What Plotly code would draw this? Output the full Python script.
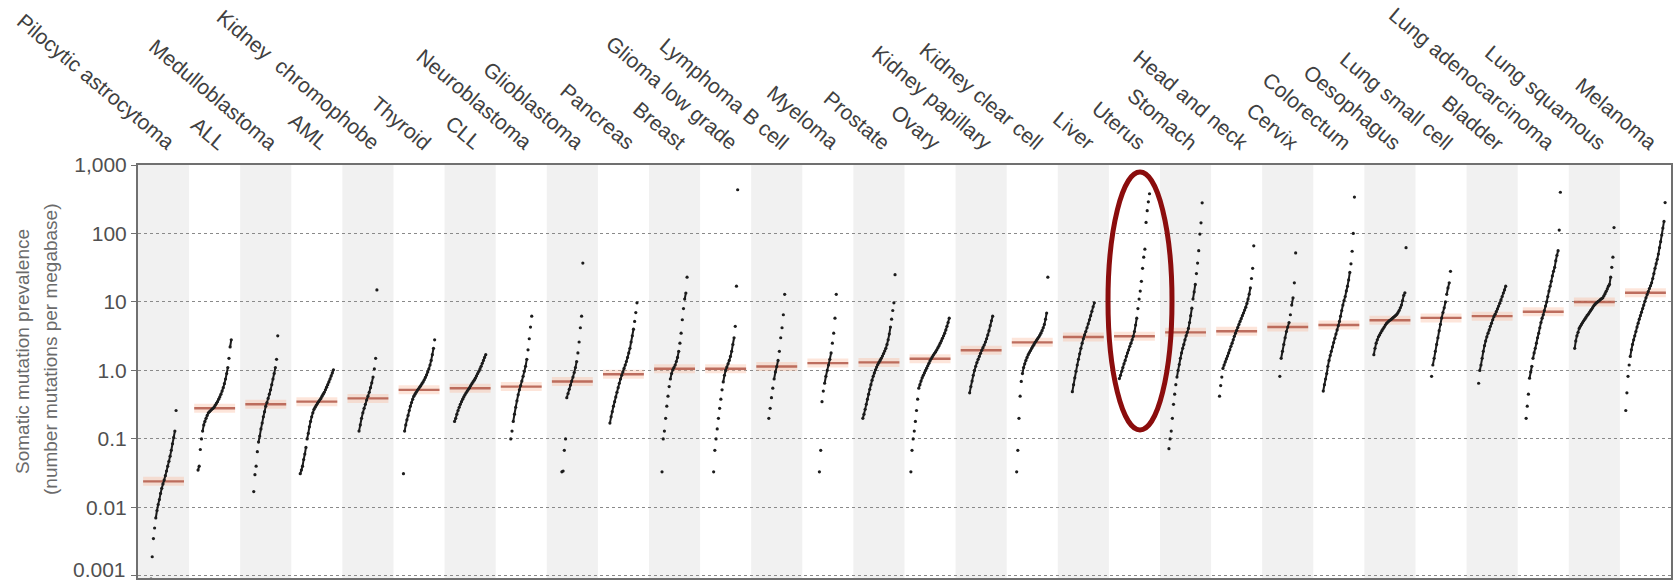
import numpy as np
import plotly.graph_objects as go

# ---------------- data ----------------
categories = [
    "Pilocytic astrocytoma", "ALL", "Medulloblastoma", "AML", "Kidney  chromophobe",
    "Thyroid", "CLL", "Neuroblastoma", "Glioblastoma", "Pancreas", "Breast",
    "Glioma low grade", "Lymphoma B cell", "Myeloma", "Prostate", "Ovary",
    "Kidney papillary", "Kidney clear cell", "Liver", "Uterus", "Stomach",
    "Head and neck", "Cervix", "Colorectum", "Oesophagus", "Lung small cell",
    "Bladder", "Lung adenocarcinoma", "Lung squamous", "Melanoma",
]

medians = [0.024, 0.28, 0.32, 0.35, 0.39, 0.52, 0.55, 0.58, 0.69, 0.88, 1.06,
           1.06, 1.14, 1.28, 1.31, 1.48, 1.97, 2.57, 3.08, 3.15, 3.6, 3.73,
           4.3, 4.6, 5.4, 5.85, 6.2, 7.2, 10.0, 13.6]

pilocytic_astrocytoma = [0.0009, 0.0019, 0.0035, 0.005, 0.007, 0.009, 0.011, 0.013, 0.016, 0.019,
                         0.022, 0.025, 0.029, 0.034, 0.04, 0.047, 0.056, 0.068, 0.085, 0.105, 0.13, 0.26]
all_leukaemia = [0.035, 0.04, 0.07, 0.1, 0.13, 0.16, 0.18, 0.2, 0.22, 0.24, 0.25, 0.26, 0.27, 0.28, 0.29,
                 0.31, 0.33, 0.35, 0.38, 0.41, 0.45, 0.5, 0.56, 0.64, 0.75, 0.9, 1.1, 1.5, 2.2, 2.8]
medulloblastoma = [0.017, 0.03, 0.04, 0.065, 0.09, 0.11, 0.14, 0.17, 0.21, 0.25, 0.3, 0.34, 0.39, 0.45,
                   0.52, 0.62, 0.75, 0.9, 1.1, 1.45, 3.2]
aml = [0.031, 0.035, 0.04, 0.05, 0.06, 0.075, 0.1, 0.12, 0.15, 0.18, 0.21, 0.24, 0.27, 0.29, 0.31,
       0.33, 0.35, 0.37, 0.39, 0.42, 0.45, 0.48, 0.52, 0.57, 0.62, 0.68, 0.75, 0.83, 0.92, 1.02]
kidney_chromophobe = [0.13, 0.16, 0.2, 0.24, 0.28, 0.32, 0.37, 0.42, 0.48, 0.56, 0.66, 0.8, 1.05, 1.5, 15]
thyroid = [0.031, 0.13, 0.16, 0.19, 0.22, 0.26, 0.3, 0.34, 0.38, 0.42, 0.45, 0.48, 0.51, 0.54, 0.57,
           0.6, 0.64, 0.68, 0.73, 0.79, 0.86, 0.95, 1.05, 1.2, 1.4, 1.7, 2.1, 2.8]
cll = [0.18, 0.2, 0.23, 0.26, 0.29, 0.32, 0.35, 0.38, 0.41, 0.44, 0.47, 0.5, 0.53, 0.56, 0.6, 0.64,
       0.68, 0.72, 0.77, 0.83, 0.9, 0.97, 1.05, 1.15, 1.27, 1.4, 1.55, 1.7]
neuroblastoma = [0.1, 0.13, 0.18, 0.23, 0.29, 0.36, 0.44, 0.52, 0.6, 0.7, 0.82, 0.97, 1.15, 1.45,
                 2.0, 2.9, 4.3, 6.2]
glioblastoma = [0.033, 0.034, 0.068, 0.1, 0.4, 0.46, 0.53, 0.61, 0.7, 0.8, 0.93, 1.1, 1.35, 1.8,
                2.6, 4.2, 6.2, 37]
pancreas = [0.17, 0.21, 0.25, 0.3, 0.35, 0.41, 0.48, 0.56, 0.65, 0.75, 0.85, 0.95, 1.07, 1.2, 1.35,
            1.55, 1.8, 2.1, 2.6, 3.2, 4.0, 5.2, 7.0, 9.7]
breast = [0.033, 0.1, 0.13, 0.2, 0.3, 0.42, 0.58, 0.75, 0.9, 1.02, 1.1, 1.2, 1.35, 1.55, 1.9, 2.5,
          3.5, 5.5, 8.0, 11, 13.5, 23]
glioma_low_grade = [0.033, 0.068, 0.1, 0.14, 0.2, 0.28, 0.38, 0.52, 0.68, 0.85, 1.0, 1.12, 1.25, 1.4,
                    1.6, 1.9, 2.4, 3.0, 4.4, 17, 435]
lymphoma_b_cell = [0.2, 0.28, 0.4, 0.55, 0.75, 0.95, 1.14, 1.4, 1.9, 3.0, 4.2, 6.5, 12.9]
myeloma = [0.033, 0.068, 0.35, 0.5, 0.65, 0.82, 1.0, 1.2, 1.45, 1.8, 2.5, 3.5, 5.8, 12.9]
prostate = [0.2, 0.23, 0.27, 0.32, 0.38, 0.45, 0.53, 0.62, 0.72, 0.82, 0.92, 1.02, 1.12, 1.22, 1.31,
            1.4, 1.5, 1.62, 1.76, 1.92, 2.1, 2.4, 2.8, 3.4, 4.3, 5.6, 7.5, 9.7, 25]
ovary = [0.033, 0.068, 0.1, 0.13, 0.18, 0.26, 0.38, 0.55, 0.62, 0.7, 0.78, 0.85, 0.92, 1.0, 1.08,
         1.17, 1.27, 1.38, 1.48, 1.58, 1.68, 1.78, 1.88, 2.0, 2.15, 2.3, 2.5, 2.7, 2.95, 3.2, 3.5,
         3.9, 4.4, 5.0, 5.8]
kidney_papillary = [0.47, 0.58, 0.7, 0.85, 1.0, 1.15, 1.3, 1.45, 1.6, 1.78, 1.97, 2.15, 2.35, 2.6,
                    2.9, 3.3, 3.8, 4.5, 5.3, 6.2]
kidney_clear_cell = [0.033, 0.068, 0.2, 0.42, 0.69, 0.9, 1.1, 1.25, 1.4, 1.55, 1.7, 1.82, 1.95, 2.1,
                     2.25, 2.4, 2.57, 2.72, 2.88, 3.05, 3.25, 3.5, 3.8, 4.2, 4.7, 5.6, 6.9, 23]
liver = [0.49, 0.62, 0.78, 0.97, 1.2, 1.45, 1.75, 2.1, 2.5, 2.9, 3.3, 3.7, 4.2, 4.8, 5.5, 6.3, 7.3,
         8.5, 9.7]
uterus = [0.76, 0.85, 0.97, 1.1, 1.25, 1.4, 1.6, 1.8, 2.0, 2.25, 2.5, 2.8, 3.15, 3.7, 4.6, 5.8, 8,
          11, 14.4, 20, 31, 45, 59, 145, 215, 290, 380]
stomach = [0.072, 0.1, 0.13, 0.2, 0.32, 0.45, 0.62, 0.8, 1.0, 1.22, 1.5, 1.8, 2.1, 2.4, 2.8, 3.2,
           3.6, 4.1, 5.0, 6.3, 8.1, 11, 14, 18, 26, 37, 56, 98, 143, 280]
head_and_neck = [0.42, 0.6, 0.8, 1.07, 1.2, 1.33, 1.47, 1.62, 1.8, 2.0, 2.25, 2.5, 2.8, 3.15, 3.5,
                 3.85, 4.25, 4.7, 5.2, 5.7, 6.3, 6.9, 7.6, 8.4, 9.5, 11, 13, 16, 22, 31, 66]
cervix = [0.82, 1.5, 1.9, 2.4, 3.0, 3.7, 4.3, 5.0, 6.5, 9.0, 11.5, 19, 52]
colorectum = [0.5, 0.62, 0.75, 0.9, 1.15, 1.4, 1.65, 1.9, 2.2, 2.55, 2.95, 3.4, 3.9, 4.5, 5.2, 6.2,
              7.5, 9.0, 10.5, 12, 14.5, 17, 21, 27, 36, 55, 100, 340]
oesophagus = [1.7, 2.1, 2.5, 2.8, 3.1, 3.3, 3.55, 3.8, 4.05, 4.3, 4.6, 4.85, 5.05, 5.25, 5.4, 5.55,
              5.75, 5.95, 6.15, 6.35, 6.6, 7.0, 7.5, 8.2, 9.0, 10.5, 12.5, 13.6, 62]
lung_small_cell = [0.82, 1.2, 1.5, 1.9, 2.4, 3.0, 3.8, 4.7, 5.85, 7.0, 8.2, 10, 12.9, 16, 19, 28]
bladder = [0.65, 1.0, 1.2, 1.5, 1.9, 2.3, 2.7, 3.1, 3.5, 3.9, 4.4, 4.9, 5.5, 6.1, 6.6, 7.2, 7.9, 8.7,
           9.6, 10.7, 12, 13.5, 15, 17]
lung_adenocarcinoma = [0.2, 0.3, 0.45, 0.77, 0.95, 1.15, 1.5, 1.8, 2.1, 2.5, 3.0, 3.5, 4.2, 5.0, 5.8,
                       6.5, 7.5, 8.7, 10, 12, 14.4, 17, 20, 24, 28, 32, 40, 48, 56, 112, 400]
lung_squamous = [2.1, 2.7, 3.2, 3.6, 4.1, 4.4, 4.7, 5.0, 5.3, 5.6, 5.95, 6.3, 6.6, 7.0, 7.4, 7.8, 8.3,
                 8.8, 9.2, 9.6, 9.9, 10.2, 10.5, 10.9, 11.2, 11.5, 12.3, 13.2, 14.3, 15.5, 17, 18,
                 23, 32, 45, 122]
melanoma = [0.26, 0.47, 0.82, 1.2, 1.6, 2.0, 2.4, 2.8, 3.2, 3.7, 4.3, 4.9, 5.6, 6.3, 7.1, 8.0, 9.0,
            10.2, 11.5, 12.8, 14.2, 15.7, 17.2, 19, 22, 26, 31, 36, 42, 50, 62, 76, 95, 120, 150, 283]

samples = [pilocytic_astrocytoma, all_leukaemia, medulloblastoma, aml, kidney_chromophobe, thyroid,
           cll, neuroblastoma, glioblastoma, pancreas, breast, glioma_low_grade, lymphoma_b_cell,
           myeloma, prostate, ovary, kidney_papillary, kidney_clear_cell, liver, uterus, stomach,
           head_and_neck, cervix, colorectum, oesophagus, lung_small_cell, bladder,
           lung_adenocarcinoma, lung_squamous, melanoma]

y_tickvals = [0.001, 0.01, 0.1, 1, 10, 100, 1000]
y_ticktext = ["0.001", "0.01", "0.1", "1.0", "10", "100", "1,000"]

# ---------------- figure ----------------
W, H = 1676, 582
ML, MR, MT, MB = 138, 5, 165, 4
n_cols = len(categories)
FONT = "Arial, Liberation Sans, Helvetica, sans-serif"
TICK_FONT = dict(family=FONT, size=21, color="#505050")

fig = go.Figure()

# median bars (soft glow + core)
mx, my = [], []
for i, m in enumerate(medians):
    mx += [i + 0.5 - 0.4, i + 0.5 + 0.4, None]
    my += [m, m, None]
fig.add_trace(go.Scatter(x=mx, y=my, mode="lines", hoverinfo="skip",
                         line=dict(color="rgba(248,180,150,0.35)", width=9)))
fig.add_trace(go.Scatter(x=mx, y=my, mode="lines",
                         line=dict(color="rgba(178,88,72,0.85)", width=2.4)))

# sample points, ordered by rank within each column
px, py = [], []          # every sample as a dot
lx, ly = [], []          # dense runs where neighbouring dots merge visually
for i, vals in enumerate(samples):
    v = sorted(vals)
    n = len(v)
    spread = min(0.8, 0.02 * n + 0.05)
    xs = [i + 0.5 + ((k / (n - 1) if n > 1 else 0.5) - 0.5) * spread for k in range(n)]
    px += xs
    py += v
    for k in range(n - 1):
        if abs(np.log10(v[k + 1]) - np.log10(v[k])) < 0.11:
            lx += [xs[k], xs[k + 1], None]
            ly += [v[k], v[k + 1], None]

fig.add_trace(go.Scatter(x=lx, y=ly, mode="lines", hoverinfo="skip",
                         line=dict(color="#1c1c1c", width=2)))
fig.add_trace(go.Scatter(x=px, y=py, mode="markers",
                         marker=dict(size=3.2, color="#1c1c1c", line=dict(width=0))))

# alternating background bands
shapes = []
for i in range(0, n_cols, 2):
    shapes.append(dict(type="rect", xref="x", yref="paper", x0=i, x1=i + 1, y0=0, y1=1,
                       fillcolor="#f1f1f1", line=dict(width=0), layer="below"))

# highlight ellipse around the hypermutated column
plot_h = H - MT - MB
plot_w = W - ML - MR
def py2paper(ypix):
    return (H - MB - ypix) / plot_h
col_w = plot_w / n_cols
shapes.append(dict(type="circle", xref="x", yref="paper",
                   x0=(1108 - ML) / col_w, x1=(1172 - ML) / col_w,
                   y0=py2paper(430), y1=py2paper(172),
                   line=dict(color="#8b0d0d", width=5), layer="above"))

annotations = []
for i, name in enumerate(categories):
    annotations.append(dict(text=name, x=i + 0.5 + 18.5 / col_w, y=py2paper(157),
                            xref="x", yref="paper", xanchor="right", yanchor="bottom",
                            textangle=40, showarrow=False,
                            font=dict(family=FONT, size=21, color="#404040")))

# lowest tick label sits on the figure edge; drawn as an annotation, nudged up to stay visible
annotations.append(dict(text=y_ticktext[0], x=-10 / plot_w, y=np.log10(y_tickvals[0]),
                        xref="paper", yref="y", xanchor="right", yanchor="middle", yshift=6,
                        showarrow=False, font=TICK_FONT))

annotations.append(dict(text="Somatic mutation prevalence", x=(22 - ML) / plot_w,
                        y=py2paper(352), xref="paper", yref="paper", textangle=-90,
                        showarrow=False, xanchor="center", yanchor="middle",
                        font=dict(family=FONT, size=19, color="#6a6a6a")))
annotations.append(dict(text="(number mutations per megabase)", x=(50 - ML) / plot_w,
                        y=py2paper(350), xref="paper", yref="paper", textangle=-90,
                        showarrow=False, xanchor="center", yanchor="middle",
                        font=dict(family=FONT, size=19, color="#6a6a6a")))

fig.update_layout(
    width=W, height=H,
    margin=dict(l=ML, r=MR, t=MT, b=MB, pad=0),
    paper_bgcolor="white", plot_bgcolor="white",
    showlegend=False,
    shapes=shapes, annotations=annotations,
    font=dict(family=FONT),
)
fig.update_xaxes(range=[0, n_cols], showgrid=False, zeroline=False, showticklabels=False,
                 ticks="", showline=True, linecolor="#707070", linewidth=2, mirror=True)
fig.update_yaxes(type="log", range=[np.log10(0.00093), 3], tickvals=y_tickvals,
                 ticktext=[""] + y_ticktext[1:],
                 showgrid=True, gridcolor="#8a8a8a", gridwidth=1, griddash="dot",
                 zeroline=False, showline=True, linecolor="#707070", linewidth=2, mirror=True,
                 ticks="outside", ticklen=5, tickcolor="#707070", tickfont=TICK_FONT)

fig.write_html("out.html", config={"displayModeBar": False},
               post_script="document.body.style.margin='0';document.body.style.overflow='hidden';")
